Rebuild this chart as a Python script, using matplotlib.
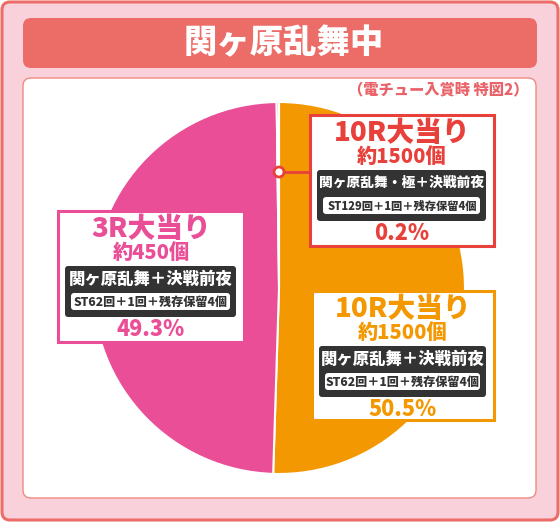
import matplotlib
matplotlib.use("Agg")
import matplotlib.pyplot as plt
from matplotlib.patches import FancyBboxPatch, Circle, Rectangle

plt.rcParams['font.family'] = ['Noto Sans CJK JP', 'DejaVu Sans']

# ---- data ----
title = "関ヶ原乱舞中"
subtitle = "（電チュー入賞時 特図2）"
values = [50.5, 49.3, 0.2]
slice_colors = ["#f39800", "#e94e97", "#e8383d"]
rounds = ["10R大当り", "3R大当り", "10R大当り"]
payouts = ["約1500個", "約450個", "約1500個"]
modes = ["関ヶ原乱舞＋決戦前夜", "関ヶ原乱舞＋決戦前夜", "関ヶ原乱舞・極＋決戦前夜"]
st_texts = ["ST62回＋1回＋残存保留4個", "ST62回＋1回＋残存保留4個", "ST129回＋1回＋残存保留4個"]
pct_labels = ["50.5%", "49.3%", "0.2%"]

W, H = 560, 523
fig = plt.figure(figsize=(W / 100, H / 100), dpi=100)
ax = fig.add_axes([0, 0, 1, 1])

# pie (y axis inverted later -> counterclock in data = clockwise on screen)
cx, cy, r = 279, 288, 186
wedges, _ = ax.pie(values, colors=slice_colors, startangle=270, counterclock=True,
                   center=(cx, cy), radius=r, frame=True,
                   wedgeprops=dict(edgecolor="white", linewidth=1.5))
for w in wedges:
    w.set_zorder(3)

ax.set_xlim(0, W)
ax.set_ylim(H, 0)
ax.set_aspect('auto')
ax.axis('off')

def rbox(x0, y0, x1, y1, fc, ec, lw, rs, z):
    p = FancyBboxPatch((x0, y0), x1 - x0, y1 - y0,
                       boxstyle=f"round,pad=0,rounding_size={rs}",
                       fc=fc, ec=ec, lw=lw, zorder=z)
    ax.add_patch(p)

FW = "heavy"

# background / frames
rbox(2, 2, 558, 520, "#f9d1da", "#ec6d67", 2.2, 8, 0)
rbox(23, 18, 537, 68, "#ec6d67", "none", 0, 8, 1)
ax.text(284, 43, title, color="white", fontsize=24, fontweight=FW,
        ha="center", va="center", zorder=2)
rbox(23, 78, 536, 498, "white", "#f08a80", 1.0, 8, 1)
ax.text(529, 90, subtitle, color="#e9646a", fontsize=11, fontweight=FW,
        ha="right", va="center", zorder=2)

# label boxes: order matches data (orange, pink, red)
boxes = [(312, 291, 494, 420), (58, 211, 244, 342), (310, 115, 494, 246)]
text_cols = ["#f39800", "#e94e97", "#e8413c"]
mode_sizes = [11.8, 11.8, 9.9]
st_sizes = [8.7, 8.7, 8.1]

for i in range(3):
    x0, y0, x1, y1 = boxes[i]
    col = text_cols[i]
    ax.add_patch(Rectangle((x0, y0), x1 - x0, y1 - y0, fc="white", ec=col,
                           lw=2.2, zorder=5))
    mx = (x0 + x1) / 2
    ax.text(mx, y0 + 18, rounds[i], color=col, fontsize=20, fontweight=FW,
            ha="center", va="center", zorder=6)
    ax.text(mx, y0 + 42, payouts[i], color=col, fontsize=14.5, fontweight=FW,
            ha="center", va="center", zorder=6)
    rbox(x0 + 7, y0 + 55, x1 - 8, y0 + 106, "#333333", "none", 0, 3, 6)
    ax.text(mx, y0 + 68, modes[i], color="white", fontsize=mode_sizes[i], fontweight=FW,
            ha="center", va="center", zorder=7)
    rbox(x0 + 13, y0 + 82, x1 - 14, y0 + 99, "white", "none", 0, 3, 7)
    ax.text(mx, y0 + 90.5, st_texts[i], color="#333333", fontsize=st_sizes[i], fontweight=FW,
            ha="center", va="center", zorder=8)
    ax.text(mx, y0 + 119, pct_labels[i], color=col, fontsize=15.5, fontweight=FW,
            ha="center", va="center", zorder=6)

# connector for the tiny slice
ax.plot([279, 310], [172, 172], color="#e8413c", lw=2, zorder=4)
ax.add_patch(Circle((279, 172), 5, fc="white", ec="#e8413c", lw=2, zorder=5))

fig.savefig("out.png", dpi=100)
